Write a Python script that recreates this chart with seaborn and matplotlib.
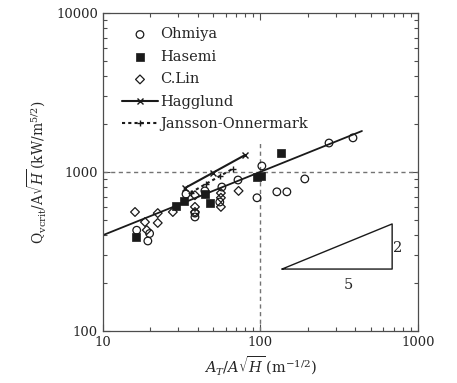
import numpy as np
import pandas as pd
import matplotlib
matplotlib.use('Agg')
import matplotlib.pyplot as plt
import seaborn as sns

## Datos

ohmiya_x = [19.3, 16.4, 33.7, 38.4, 38.4, 56.9, 55.2, 72, 95, 102, 127, 147, 191, 272, 386, 44.4, 19.8]
ohmiya_y = [368, 430, 726, 521, 551, 804, 647, 890, 688, 1091, 750, 750, 904, 1521, 1639, 760, 410]

hasemi_x = [16.2, 29.1, 32.7, 44.4, 47.8, 95, 101, 135]
hasemi_y = [390, 612, 657, 726, 638, 930, 950, 1316]

clin_x = [16.0, 19.0, 18.5, 22.3, 22.3, 27.8, 38.4, 38.4, 56.1, 56.1, 56.1, 72.6, 38.4]
clin_y = [560, 431, 484, 551, 478, 560, 603, 714, 737, 688, 603, 760, 560]

hagglund_x = [33, 50, 80]
hagglund_y = [790, 990, 1280]

jansson_x = [36, 45, 55, 67]
jansson_y = [740, 840, 940, 1050]

fit_x = [10, 440]          # recta de ajuste (pendiente 2/5)
fit_y = [400, 1810]

tri_x = [137, 684, 684, 137]   # triangulo de pendiente 2:5
tri_y = [245, 245, 471, 245]

ref_y = 1000   # linea horizontal punteada
ref_x = 100    # linea vertical punteada
ref_x_top = 1600

x_ticks = [10, 100, 1000]
y_ticks = [100, 1000, 10000]

## Estilo

sns.set_theme(style='ticks')
plt.rcParams['font.family'] = ['DejaVu Serif']
plt.rcParams['mathtext.fontset'] = 'dejavuserif'
plt.rcParams['xtick.direction'] = 'in'
plt.rcParams['ytick.direction'] = 'in'

fig = plt.figure(figsize=(4.57, 3.83), dpi=100)
ax = fig.add_axes([0.225, 0.136, 0.69, 0.83])

# lineas de referencia
ax.axhline(ref_y, color='0.45', lw=1.0, ls=(0, (3, 2.5)), zorder=1)
ax.vlines(ref_x, 100, ref_x_top, color='0.45', lw=1.0, ls=(0, (3, 2.5)), zorder=1)

# ajuste
sns.lineplot(x=fit_x, y=fit_y, ax=ax, color='k', lw=1.3, zorder=2)

# puntos
sns.scatterplot(x=ohmiya_x, y=ohmiya_y, ax=ax, marker='o', s=30, facecolor='none',
                edgecolor='k', linewidth=0.9, label='Ohmiya', zorder=3)
sns.scatterplot(x=hasemi_x, y=hasemi_y, ax=ax, marker='s', s=32, color='k',
                edgecolor='k', linewidth=0.5, label='Hasemi', zorder=3)
sns.scatterplot(x=clin_x, y=clin_y, ax=ax, marker='D', s=20, facecolor='none',
                edgecolor='k', linewidth=0.9, label='C.Lin', zorder=3)

# correlaciones
sns.lineplot(x=hagglund_x, y=hagglund_y, ax=ax, color='k', lw=1.5, marker='x',
             markersize=5, markeredgewidth=1.0, markeredgecolor='k',
             label='Hagglund', zorder=2)
sns.lineplot(x=jansson_x, y=jansson_y, ax=ax, color='k', lw=1.5, ls=(0, (1.5, 1.5)),
             marker='+', markersize=5, markeredgewidth=1.0, markeredgecolor='k',
             label='Jansson-Onnermark', zorder=2)

# triangulo
sns.lineplot(x=tri_x, y=tri_y, ax=ax, color='k', lw=1.0, sort=False, estimator=None)
ax.text(740, 330, '2', fontsize=10.5, ha='center', va='center')
ax.text(360, 195, '5', fontsize=10.5, ha='center', va='center')

ax.set_xscale('log')
ax.set_yscale('log')
ax.set_xlim(10, 1000)
ax.set_ylim(100, 10000)
ax.set_xticks(x_ticks)
ax.set_xticklabels([str(v) for v in x_ticks])
ax.set_yticks(y_ticks)
ax.set_yticklabels([str(v) for v in y_ticks])
ax.tick_params(which='both', top=True, right=True, labelsize=9.5, width=0.8, color='0.3')
ax.tick_params(which='major', length=5)
ax.tick_params(which='minor', length=3)
for sp in ax.spines.values():
    sp.set_linewidth(0.9)
    sp.set_color('0.3')

ax.set_xlabel(r'$A_T/A\sqrt{H}\,(\mathrm{m^{-1/2}})$', fontsize=10.5, labelpad=4)
ax.set_ylabel(r'$\mathrm{Q_{vcrit}}/\mathrm{A}\sqrt{H}\,(\mathrm{kW/m^{5/2}})$', fontsize=10, labelpad=6)

handles, labels = ax.get_legend_handles_labels()
ax.legend(handles, labels, loc='upper left', bbox_to_anchor=(0.06, 0.955), frameon=False,
          fontsize=10.5, handlelength=2.5, handletextpad=0.15, labelspacing=0.58,
          borderaxespad=0, borderpad=0)

plt.savefig('out.png', dpi=100)
